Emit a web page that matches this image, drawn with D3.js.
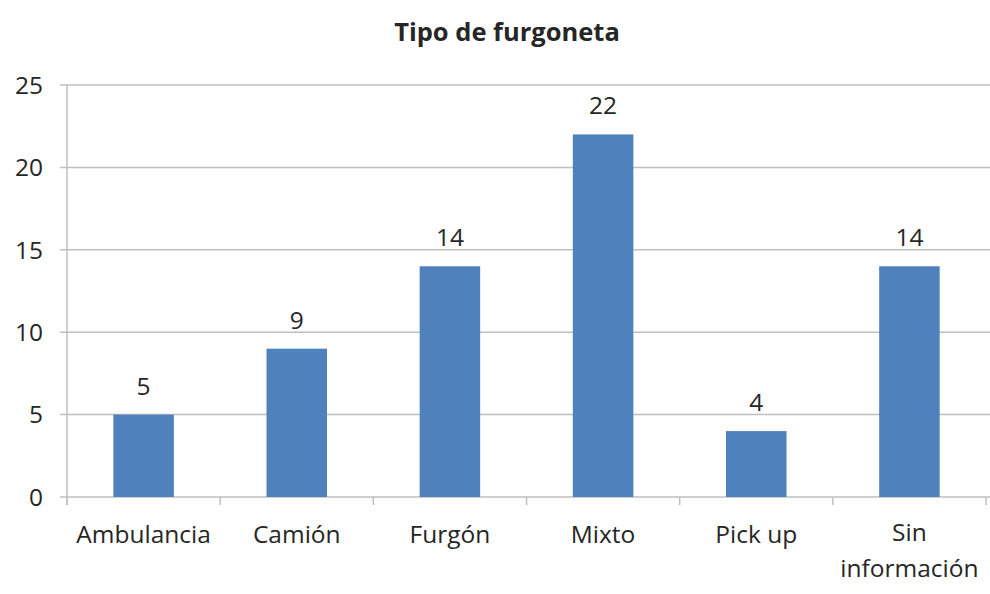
<!DOCTYPE html>
<html><head><meta charset="utf-8">
<script src="https://cdn.jsdelivr.net/npm/d3@7"></script>
<style>body{margin:0;background:#fff}svg{display:block}text{font-family:"Open Sans","Noto Sans",sans-serif;fill:#262626}</style>
</head><body><svg id="c" width="990" height="594"></svg>
<script>
const categories = ["Ambulancia","Camión","Furgón","Mixto","Pick up","Sin información"];
const values = [5, 9, 14, 22, 4, 14];
const yTicks = [0, 5, 10, 15, 20, 25];
const title = "Tipo de furgoneta";

const svg = d3.select("#c");
const x = d3.scaleBand().domain(categories).range([67, 986]).paddingInner(0.605).paddingOuter(0.3025);
const y = d3.scaleLinear().domain([0, 25]).range([497, 85]);
const fs = "24.5px";

svg.append("text").attr("x", 507).attr("y", 41).attr("text-anchor", "middle")
  .style("font-size", "25.5px").style("font-weight", "bold").text(title);

svg.append("g").selectAll("line").data(yTicks).join("line")
  .attr("x1", 60).attr("x2", 990).attr("y1", d => y(d)).attr("y2", d => y(d))
  .attr("stroke", "#bfbfbf").attr("stroke-width", 1.5);

svg.append("line").attr("x1", 67).attr("x2", 67).attr("y1", y(25)).attr("y2", y(0) + 8)
  .attr("stroke", "#bfbfbf").attr("stroke-width", 1.5);

svg.append("g").selectAll("text").data(yTicks).join("text")
  .attr("x", 43).attr("y", d => y(d)).attr("dy", "0.36em").attr("text-anchor", "end")
  .style("font-size", fs).text(d => d);

const bounds = d3.range(categories.length + 1).map(i => 67 + i * (919 / categories.length));
svg.append("g").selectAll("line").data(bounds).join("line")
  .attr("x1", d => d).attr("x2", d => d).attr("y1", y(0)).attr("y2", y(0) + 8)
  .attr("stroke", "#bfbfbf").attr("stroke-width", 1.5);

svg.append("g").selectAll("rect").data(values).join("rect")
  .attr("x", (d, i) => x(categories[i])).attr("width", x.bandwidth())
  .attr("y", d => y(d)).attr("height", d => y(0) - y(d)).attr("fill", "#4f81bd");

svg.append("g").selectAll("text").data(values).join("text")
  .attr("x", (d, i) => x(categories[i]) + x.bandwidth() / 2).attr("y", d => y(d) - 20)
  .attr("text-anchor", "middle").style("font-size", fs).text(d => d);

const cl = svg.append("g").selectAll("text").data(categories).join("text")
  .attr("text-anchor", "middle").style("font-size", fs)
  .attr("transform", d => `translate(${x(d) + x.bandwidth() / 2},0)`);
cl.each(function(d) {
  const t = d3.select(this);
  const parts = d === "Sin información" ? ["Sin", "información"] : [d];
  const y0 = parts.length > 1 ? 541 : 543;
  parts.forEach((p, i) => t.append("tspan").attr("x", 0).attr("y", y0 + i * 36).text(p));
});
</script></body></html>
